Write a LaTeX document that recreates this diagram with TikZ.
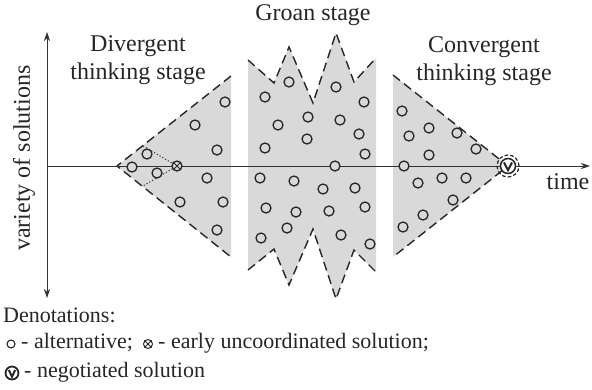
\documentclass[tikz,border=0pt]{standalone}
\usepackage{fontspec}
\setmainfont{Liberation Serif}
\usetikzlibrary{arrows.meta}
\begin{document}
\begin{tikzpicture}[x=1pt,y=-1pt,
  alt/.style={draw=black!85,line width=1.3pt},
  edge/.style={draw=black!85,line width=1.4pt,dash pattern=on 9pt off 5pt},
  title/.style={font=\fontsize{24}{28}\selectfont,align=center,text=black!85},
  legend/.style={font=\fontsize{22}{26}\selectfont,anchor=west,text=black!85,inner sep=0pt},
  axisline/.style={draw=black!80,line width=0.8pt}
]
\useasboundingbox (0,0) rectangle (592,389);

% ---- stage regions ----
% divergent
\fill[black!15] (117,166) -- (231,76) -- (231,257) -- cycle;
\draw[edge] (231,76) -- (117,166) -- (231,257);
% groan
\fill[black!15] (248,60) -- (274,83) -- (289,47) -- (313,103) -- (336,33) -- (354,82) -- (376,58)
  -- (376,272) -- (354,250) -- (336,299) -- (313,229) -- (289,285) -- (274,249) -- (248,270) -- cycle;
\draw[edge] (248,60) -- (274,83) -- (289,47) -- (313,103) -- (336,33) -- (354,82) -- (376,58);
\draw[edge] (248,270) -- (274,249) -- (289,285) -- (313,229) -- (336,299) -- (354,250) -- (376,272);
% convergent
\fill[black!15] (393,75) -- (508,166) -- (393,257) -- cycle;
\draw[edge] (393,75) -- (508,166) -- (393,257);

% ---- axes ----
\coordinate (O) at (47,166);
\coordinate (Ytop) at (47,32);
\coordinate (Ybot) at (47,298);
\coordinate (Xend) at (590,166);
\draw[axisline,{Stealth[length=9pt,width=6pt]}-{Stealth[length=9pt,width=6pt]}] (Ybot) -- (Ytop);
\draw[axisline,-{Stealth[length=9pt,width=6pt]}] (O) -- (Xend);

% ---- dotted early-solution lines ----
\draw[black!80,line width=1pt,dash pattern=on 1.2pt off 2pt] (143,146) -- (177,166) -- (143,186);

% ---- alternatives ----
\foreach \p in {(225,102),(195,125),(217,150),(147,154),(132,167),(157,173),(207,178),(180,202),(223,202),(217,230),
  (289,82),(336,87),(265,97),(364,102),(308,117),(278,125),(340,120),(359,134),(307,139),(265,148),(365,154),(335,166),
  (260,178),(294,181),(323,189),(355,188),(266,208),(296,212),(329,211),(365,207),(287,228),(261,238),(341,235),(370,244),
  (402,111),(409,136),(429,128),(457,133),(476,149),(429,155),(404,166),(418,183),(442,178),(466,178),(453,200),(423,215),(403,227)}
  \draw[alt,fill=black!15] \p circle (5pt);

% early uncoordinated solution
\node[circle,draw=black!85,line width=1.3pt,fill=black!15,minimum size=10pt,inner sep=0pt] (early) at (177,166) {};
\draw[black!85,line width=1pt] (early.45) -- (early.225) (early.135) -- (early.315);

% negotiated solution
\node[circle,draw=black!85,line width=1.5pt,fill=white,minimum size=15pt,inner sep=0pt] (neg) at (508,166) {};
\draw[black!85,line width=2pt,line join=miter] ([shift={(-4,-3.6)}]neg.center) -- ([shift={(0,4.2)}]neg.center) -- ([shift={(4,-3.6)}]neg.center);
\draw[black!85,line width=1.2pt,dash pattern=on 3.5pt off 2.2pt] (neg.center) circle (11pt);

% ---- labels ----
\node[title] (tdiv) at (138,60) {Divergent\\thinking stage};
\node[title] (tgroan) at (313,15) {Groan stage};
\node[title] (tconv) at (484,61) {Convergent\\thinking stage};
\node[title] (ttime) at (568,182) {time};
\node[title,rotate=90] (tvar) at (24,158) {variety of solutions};

% ---- legend ----
\node[legend] (den) at (3,315) {Denotations:};
\node[circle,draw=black!85,line width=1.1pt,minimum size=8pt,inner sep=0pt] (s1) at (11,344) {};
\node[legend] (l2a) at (21,343) {- alternative;};
\node[circle,draw=black!85,line width=1pt,minimum size=9pt,inner sep=0pt] (s2) at (148,344) {};
\draw[black!85,line width=0.9pt] (s2.45) -- (s2.225) (s2.135) -- (s2.315);
\node[legend] (l2b) at (158,343) {- early uncoordinated solution;};
\node[circle,draw=black!85,line width=1.8pt,minimum size=13pt,inner sep=0pt] (s3) at (12,373) {};
\draw[black!85,line width=2pt,line join=miter] ([shift={(-3.2,-3)}]s3.center) -- ([shift={(0,3.6)}]s3.center) -- ([shift={(3.2,-3)}]s3.center);
\node[legend] (l3) at (24,372) {- negotiated solution};
\end{tikzpicture}
\end{document}
